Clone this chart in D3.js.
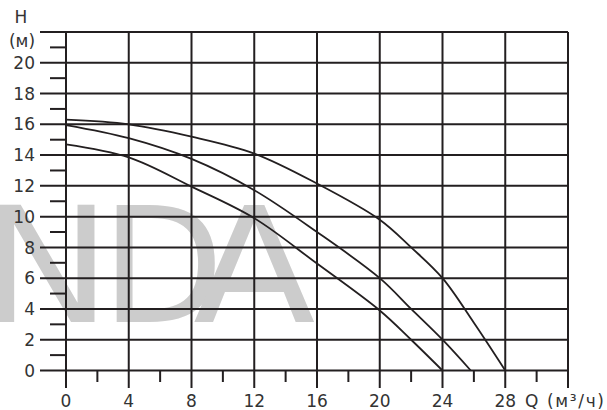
<!DOCTYPE html>
<html lang='ru'>
<head>
   <meta charset='UTF-8'>
   <title>Q-H curves</title>
   <script src='https://d3js.org/d3.v7.min.js'></script>
   <style>
      body { margin: 0; background: #fff; }
      svg { display: block; font-family: 'DejaVu Sans', Verdana, sans-serif; }
   </style>
</head>
<body>
   <div id='chart'></div>
   <script>
      // pump curves, Q (m3/h) vs H (m)
      const curveTop = [[0, 16.3], [4, 16.0], [8, 15.2], [12, 14.1], [16, 12.15], [20, 9.8], [22, 8.0], [24, 6.0], [26, 3.1], [28, 0]];
      const curveMid = [[0, 15.95], [4, 15.1], [8, 13.75], [12, 11.72], [16, 9.0], [20, 6.0], [22, 4.0], [24, 2.0], [25.8, 0]];
      const curveLow = [[0, 14.7], [4, 13.85], [8, 11.95], [12, 9.9], [16, 6.95], [20, 3.9], [22, 2.0], [24, 0]];

      const xMajor = [0, 4, 8, 12, 16, 20, 24, 28, 32];
      const xMinor = [2, 6, 10, 14, 18, 22, 26, 30];
      const xLabels = ['0', '4', '8', '12', '16', '20', '24', '28'];
      const yMajor = [0, 2, 4, 6, 8, 10, 12, 14, 16, 18, 20, 22];
      const yMinor = [1, 3, 5, 7, 9, 11, 13, 15, 17, 19, 21];
      const yLabels = ['0', '2', '4', '6', '8', '10', '12', '14', '16', '18', '20'];

      const W = 607, H = 410;
      const ink = '#231f20';

      const svg = d3.select('#chart').append('svg').attr('width', W).attr('height', H);

      const x = d3.scaleLinear().domain([0, 32]).range([66, 568]);
      const y = d3.scaleLinear().domain([0, 22]).range([370.5, 32]);

      // watermark letters, N is cut at the left edge
      const mark = svg.append('g')
         .attr('fill', '#cccccc')
         .attr('font-size', 160);
      [['N', -20, 1.1], ['D', 101, 1.0], ['A', 193, 1.12]].forEach(([ch, px, sx]) => {
         mark.append('text')
            .attr('transform', `translate(${px}, 322) scale(${sx}, 1)`)
            .text(ch);
      });

      const grid = svg.append('g').attr('stroke', ink).attr('stroke-width', 2);

      grid.selectAll('.hmaj').data(yMajor).enter().append('line')
         .attr('x1', 40).attr('x2', x(32))
         .attr('y1', d => y(d)).attr('y2', d => y(d));

      grid.selectAll('.hmin').data(yMinor).enter().append('line')
         .attr('x1', 50).attr('x2', x(0))
         .attr('y1', d => y(d)).attr('y2', d => y(d));

      grid.selectAll('.vmaj').data(xMajor).enter().append('line')
         .attr('x1', d => x(d)).attr('x2', d => x(d))
         .attr('y1', y(22)).attr('y2', 388);

      grid.selectAll('.vmin').data(xMinor).enter().append('line')
         .attr('x1', d => x(d)).attr('x2', d => x(d))
         .attr('y1', y(0)).attr('y2', 382);

      const line = d3.line()
         .x(d => x(d[0]))
         .y(d => y(d[1]))
         .curve(d3.curveCatmullRom.alpha(0.5));

      svg.selectAll('.curve').data([curveTop, curveMid, curveLow]).enter().append('path')
         .attr('fill', 'none')
         .attr('stroke', ink)
         .attr('stroke-width', 1.8)
         .attr('d', line);

      // labels
      const txt = svg.append('g').attr('fill', '#333').attr('font-size', 17);

      txt.selectAll('.yl').data(yLabels).enter().append('text')
         .attr('x', 35)
         .attr('y', (d, i) => y(yMajor[i]))
         .attr('dy', '0.36em')
         .attr('text-anchor', 'end')
         .text(d => d);

      txt.selectAll('.xl').data(xLabels).enter().append('text')
         .attr('x', (d, i) => x(xMajor[i]))
         .attr('y', 407)
         .attr('text-anchor', 'middle')
         .text(d => d);

      txt.append('text').attr('x', 21).attr('y', 23).attr('text-anchor', 'middle').text('H');
      txt.append('text').attr('x', 22).attr('y', 47).attr('text-anchor', 'middle').text('(м)');
      txt.append('text').attr('x', 525).attr('y', 407)
         .attr('textLength', 79).attr('lengthAdjust', 'spacing')
         .text('Q (м³/ч)');
   </script>
</body>
</html>
